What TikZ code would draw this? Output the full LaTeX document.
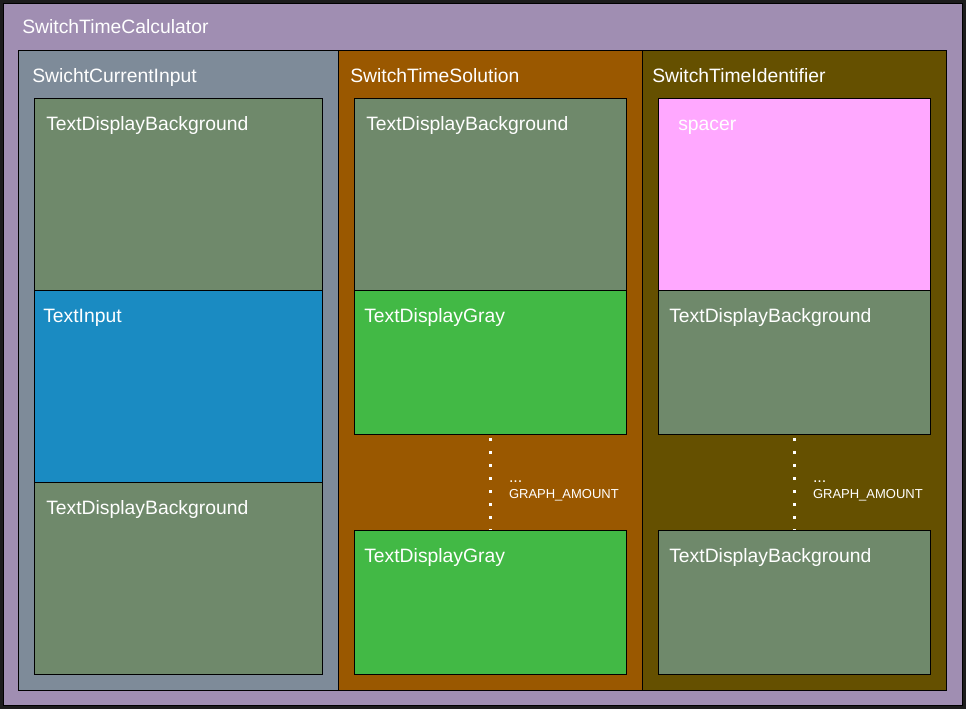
\documentclass[tikz,border=0pt]{standalone}
\usepackage{fontspec}
\setmainfont{Liberation Sans}
\usetikzlibrary{calc}

\definecolor{darkbg}{HTML}{1C1C1C}
\definecolor{calcbg}{HTML}{A08EB2}
\definecolor{inputbg}{HTML}{7E8B99}
\definecolor{solbg}{HTML}{9A5800}
\definecolor{identbg}{HTML}{655000}
\definecolor{tdbg}{HTML}{6F896B}
\definecolor{inputblue}{HTML}{1A8BC2}
\definecolor{graygreen}{HTML}{42B945}
\definecolor{spacerpink}{HTML}{FFA8FF}

\begin{document}
\begin{tikzpicture}[x=0.75pt, y=-0.75pt,
				   box/.style={draw=black, line width=1.1pt, anchor=north west, inner sep=0pt},
				   title/.style={anchor=base west, inner sep=0pt, text=white, font=\fontsize{14.5}{17}\selectfont},
				   note/.style={anchor=base west, inner sep=0pt, text=white, align=left, font=\fontsize{9.75}{12}\selectfont},
				   dots/.style={draw=white, line width=2.25pt, dash pattern=on 2.25pt off 7.5pt, dash phase=7.5pt}]
\fill[darkbg] (0,0) rectangle (966,709);
\useasboundingbox (0,0) rectangle (966,709);

% outer frame
\node[box, fill=calcbg, minimum width=719.25pt, minimum height=526.5pt] (calc) at (3,3) {};
\node[title] (calc-l) at ($(calc.north west)+(19,31)$) {SwitchTimeCalculator};

% columns
\node[box, fill=inputbg, minimum width=240pt, minimum height=480pt] (input) at (18,50) {};
\node[box, fill=solbg, minimum width=228pt, minimum height=480pt] (sol) at (338,50) {};
\node[box, fill=identbg, minimum width=228pt, minimum height=480pt] (ident) at (642,50) {};
\node[title] (input-l) at ($(input.north west)+(14,33)$) {SwichtCurrentInput};
\node[title] (sol-l) at ($(sol.north west)+(12,33)$) {SwitchTimeSolution};
\node[title] (ident-l) at ($(ident.north west)+(10,33)$) {SwitchTimeIdentifier};

% SwichtCurrentInput
\node[box, fill=tdbg, minimum width=216pt, minimum height=144pt] (in-a) at (34,98) {};
\node[box, fill=inputblue, minimum width=216pt, minimum height=144pt] (in-b) at (34,290) {};
\node[box, fill=tdbg, minimum width=216pt, minimum height=144pt] (in-c) at (34,482) {};
\node[title] (in-a-l) at ($(in-a.north west)+(12,33)$) {TextDisplayBackground};
\node[title] (in-b-l) at ($(in-b.north west)+(9,32)$) {TextInput};
\node[title] (in-c-l) at ($(in-c.north west)+(12,32)$) {TextDisplayBackground};

% SwitchTimeSolution
\node[box, fill=tdbg, minimum width=204pt, minimum height=144pt] (sol-a) at (354,98) {};
\node[box, fill=graygreen, minimum width=204pt, minimum height=108pt] (sol-b) at (354,290) {};
\node[box, fill=graygreen, minimum width=204pt, minimum height=108pt] (sol-c) at (354,530) {};
\node[title] (sol-a-l) at ($(sol-a.north west)+(12,33)$) {TextDisplayBackground};
\node[title] (sol-b-l) at ($(sol-b.north west)+(10,32)$) {TextDisplayGray};
\node[title] (sol-c-l) at ($(sol-c.north west)+(10,32)$) {TextDisplayGray};
\draw[dots] (sol-b.south) -- (sol-c.north);
\node[note] (sol-n) at ($(sol-b.south)!0.5!(sol-c.north)+(18,16)$) {{\fontsize{12}{12}\selectfont ...}\\GRAPH\_AMOUNT};

% SwitchTimeIdentifier
\node[box, fill=spacerpink, minimum width=204pt, minimum height=144pt] (id-a) at (658,98) {};
\node[box, fill=tdbg, minimum width=204pt, minimum height=108pt] (id-b) at (658,290) {};
\node[box, fill=tdbg, minimum width=204pt, minimum height=108pt] (id-c) at (658,530) {};
\node[title] (id-a-l) at ($(id-a.north west)+(20,33)$) {spacer};
\node[title] (id-b-l) at ($(id-b.north west)+(11,32)$) {TextDisplayBackground};
\node[title] (id-c-l) at ($(id-c.north west)+(11,32)$) {TextDisplayBackground};
\draw[dots] (id-b.south) -- (id-c.north);
\node[note] (id-n) at ($(id-b.south)!0.5!(id-c.north)+(18,16)$) {{\fontsize{12}{12}\selectfont ...}\\GRAPH\_AMOUNT};
\end{tikzpicture}
\end{document}
